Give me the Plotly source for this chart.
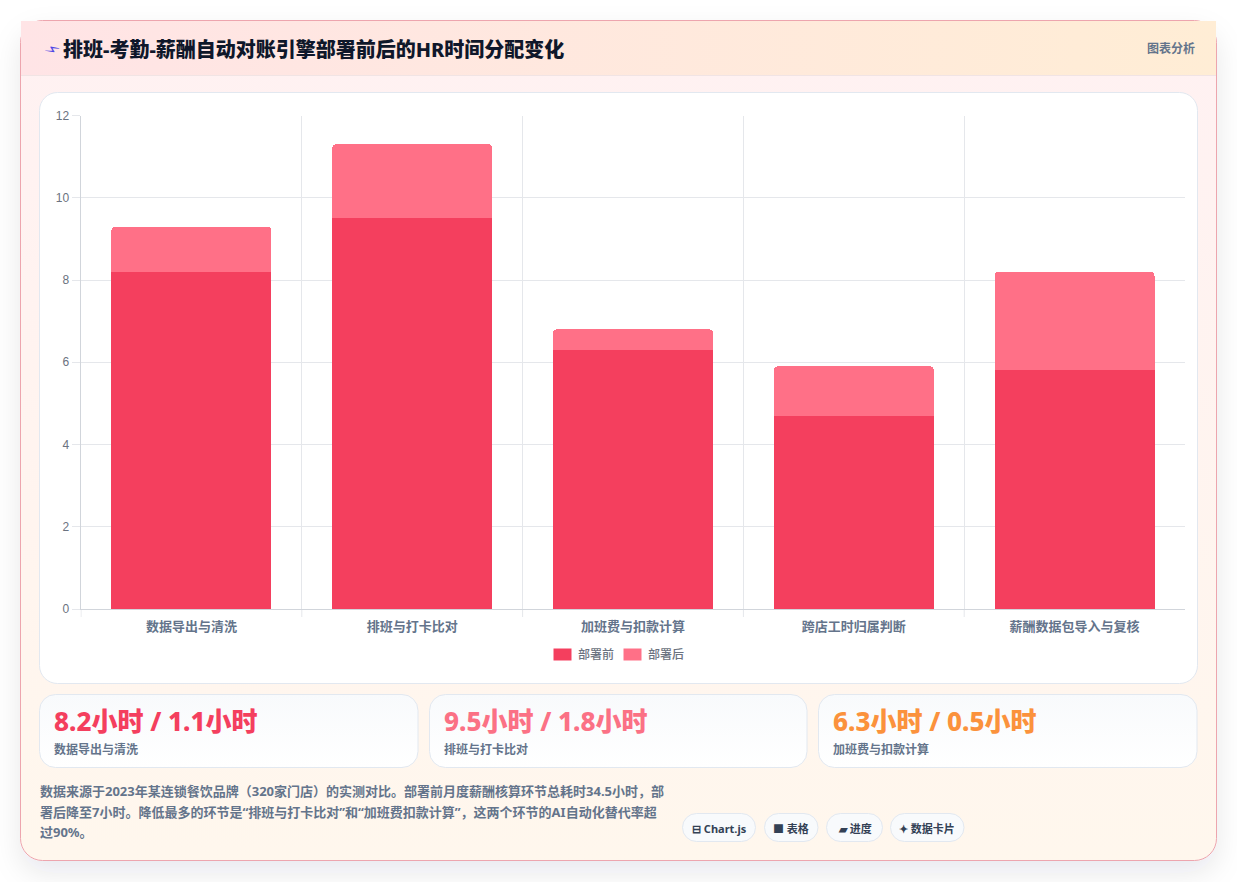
import base64
import plotly.graph_objects as go

W, H = 1237, 882

# Monthly hours per payroll step, before and after the reconciliation engine
categories = ["数据导出与清洗", "排班与打卡比对", "加班费与扣款计算", "跨店工时归属判断", "薪酬数据包导入与复核"]
hours_before = [8.2, 9.5, 6.3, 4.7, 5.8]
hours_after = [1.1, 1.8, 0.5, 1.2, 2.4]
series_names = ["部署前", "部署后"]
series_colors = ["#F43F5E", "#FF7087"]
y_ticks = [0, 2, 4, 6, 8, 10, 12]

title_text = "排班-考勤-薪酬自动对账引擎部署前后的HR时间分配变化"
badge_text = "图表分析"
stat_values = ["8.2小时 / 1.1小时", "9.5小时 / 1.8小时", "6.3小时 / 0.5小时"]
stat_names = ["数据导出与清洗", "排班与打卡比对", "加班费与扣款计算"]
stat_colors = ["#F43F5E", "#FB7185", "#FB923C"]
note_lines = [
    "数据来源于2023年某连锁餐饮品牌（320家门店）的实测对比。部署前月度薪酬核算环节总耗时34.5小时，部",
    "署后降至7小时。降低最多的环节是“排班与打卡比对”和“加班费扣款计算”，这两个环节的AI自动化替代率超",
    "过90%。",
]
pill_labels = ["⊟ Chart.js", "■ 表格", "▰ 进度", "✦ 数据卡片"]

CJK = "Noto Sans CJK SC"
LATIN_CJK = f"'Noto Sans', '{CJK}'"

# Page furniture: card, header band, panels and pills, painted as one SVG backdrop
stat_boxes = [(39.5, 378.5), (429.5, 377.5), (818.5, 378.5)]
pill_boxes = [(682.5, 73), (764.5, 53.5), (826.5, 56), (890.5, 73.5)]
boxes = "".join(
    f'<rect x="{x}" y="694.5" width="{w}" height="73" rx="16" fill="url(#stat)" stroke="#E2E8F0"/>'
    for x, w in stat_boxes
)
pills = "".join(
    f'<rect x="{x}" y="813.5" width="{w}" height="28" rx="14" fill="#F8FAFC" stroke="#E2E8F0"/>'
    for x, w in pill_boxes
)
backdrop = f"""<svg xmlns="http://www.w3.org/2000/svg" width="{W}" height="{H}" viewBox="0 0 {W} {H}">
<defs>
<linearGradient id="body" x1="0" y1="0" x2="0" y2="1"><stop offset="0" stop-color="#FFF1F2"/><stop offset="1" stop-color="#FFF7ED"/></linearGradient>
<linearGradient id="head" x1="0" y1="0" x2="1" y2="0"><stop offset="0" stop-color="#FFE4E6"/><stop offset="1" stop-color="#FFEDD5"/></linearGradient>
<linearGradient id="stat" x1="0" y1="0" x2="0" y2="1"><stop offset="0" stop-color="#F8FAFC"/><stop offset="1" stop-color="#FFFFFF"/></linearGradient>
<filter id="shadow" x="-10%" y="-10%" width="120%" height="120%"><feDropShadow dx="0" dy="12" stdDeviation="14" flood-color="#0F172A" flood-opacity="0.09"/></filter>
</defs>
<rect width="{W}" height="{H}" fill="#FFFFFF"/>
<rect x="20.5" y="20.5" width="1196" height="840" rx="22" fill="url(#body)" stroke="#EDA5AE" filter="url(#shadow)"/>
<rect x="21" y="21" width="1195" height="54" fill="url(#head)"/>
<rect x="21" y="75" width="1195" height="1" fill="#F1E4E4"/>
<rect x="39.5" y="92.5" width="1158" height="591" rx="18" fill="#FFFFFF" stroke="#E2E8F0"/>
{boxes}{pills}
</svg>"""
backdrop_uri = "data:image/svg+xml;base64," + base64.b64encode(backdrop.encode("utf-8")).decode()


def px(x):
    return x / W


def py(y):
    return 1 - y / H


def text(x, y, s, size, color, family=CJK, weight=400, anchor="left", **kw):
    return dict(
        x=px(x), y=py(y), xref="paper", yref="paper", text=s, showarrow=False,
        xanchor=anchor, yanchor="middle", align=anchor,
        font=dict(family=family, size=size, color=color, weight=weight), **kw,
    )


annotations = [
    text(38, 50, "⚡", 16, "#4F46E5", family="DejaVu Sans", textangle=45),
    text(61, 49.5, title_text, 20, "#0F172A", family=LATIN_CJK, weight=800),
    text(1197, 48, badge_text, 12, "#64748B", weight=700, anchor="right"),
]
for x, value, name, color in zip((52, 442, 831), stat_values, stat_names, stat_colors):
    annotations.append(text(x, 721, value, 26, color, family=LATIN_CJK, weight=800))
    annotations.append(text(x, 748, name, 12, "#64748B", weight=700))
for y, line in zip((791, 812, 832), note_lines):
    annotations.append(text(38, y, line, 13, "#64748B", family=LATIN_CJK, weight=700))
for x, label in zip((719, 791, 854.5, 927), pill_labels):
    annotations.append(text(x, 828, label, 11, "#334155", family=LATIN_CJK, weight=700, anchor="center"))

# Legend entries laid out along the panel's lower edge
legend_slots = [(553.5, 576), (623.5, 646)]
shapes = []
for (swatch_x, label_x), name, color in zip(legend_slots, series_names, series_colors):
    shapes.append(dict(type="rect", xref="paper", yref="paper", layer="above",
                       x0=px(swatch_x), x1=px(swatch_x + 18), y0=py(660.5), y1=py(648.5),
                       fillcolor=color, line=dict(width=0)))
    annotations.append(text(label_x, 653.5, name, 12, "#6B7280", weight=500))

# Tick marks on category boundaries, leaving the right end of the axis open
for boundary in range(len(categories)):
    shapes.append(dict(type="line", xref="x", yref="paper", layer="below",
                       x0=boundary - 0.5, x1=boundary - 0.5, y0=py(609), y1=py(617),
                       line=dict(color="#E5E7EB", width=1)))

fig = go.Figure()
fig.add_bar(x=categories, y=hours_before, name=series_names[0], marker=dict(color=series_colors[0], line=dict(width=0)))
fig.add_bar(x=categories, y=hours_after, name=series_names[1], marker=dict(color=series_colors[1], line=dict(width=0)))

fig.update_layout(
    width=W, height=H, autosize=False,
    margin=dict(l=0, r=0, t=0, b=0),
    paper_bgcolor="rgba(0,0,0,0)", plot_bgcolor="rgba(0,0,0,0)",
    barmode="stack", bargap=0.276, barcornerradius=4,
    showlegend=False,
    font=dict(family=CJK, color="#64748B"),
    images=[dict(source=backdrop_uri, xref="paper", yref="paper", x=0, y=1,
                 sizex=1, sizey=1, sizing="stretch", xanchor="left", yanchor="top", layer="below")],
    annotations=annotations,
    shapes=shapes,
    xaxis=dict(
        domain=[px(80.5), px(1185)], type="category", tickson="boundaries", automargin=False,
        ticks="", ticklabelstandoff=5,
        showgrid=True, gridcolor="#E5E7EB", gridwidth=1,
        showline=True, linecolor="#D1D5DB", linewidth=1,
        tickfont=dict(family=CJK, size=13, color="#64748B", weight=700),
    ),
    yaxis=dict(
        domain=[py(609), py(115.5)], range=[0, 12], tickvals=y_ticks, automargin=False,
        ticks="outside", ticklen=8, tickcolor="#E5E7EB",
        showgrid=True, gridcolor="#E5E7EB", gridwidth=1,
        zeroline=True, zerolinecolor="#D1D5DB", zerolinewidth=1,
        showline=True, linecolor="#D1D5DB", linewidth=1,
        tickfont=dict(family="Liberation Sans", size=12, color="#6B7280"),
    ),
)

fig.write_html("out.html", config=dict(displayModeBar=False))
